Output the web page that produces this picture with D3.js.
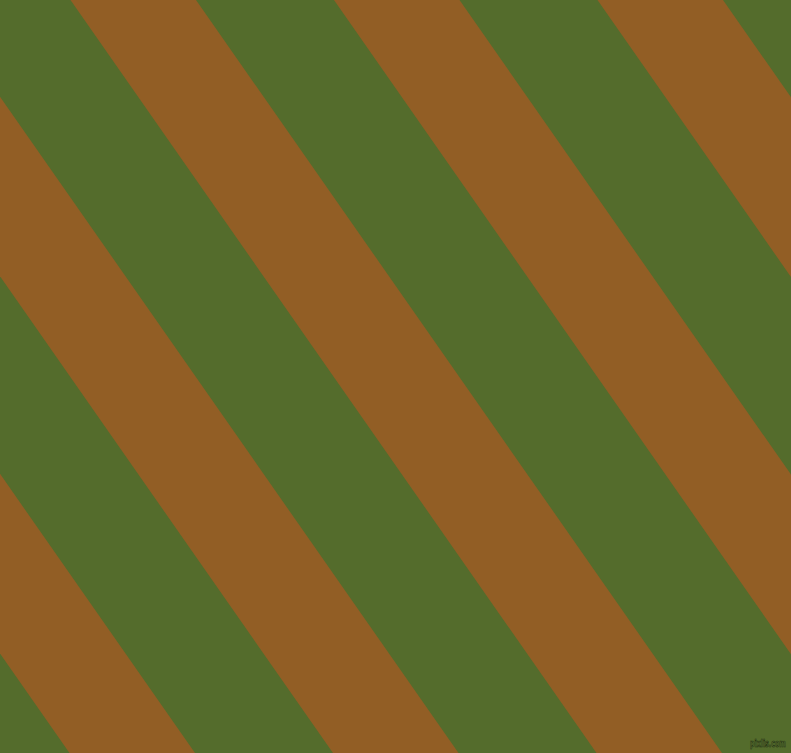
<!DOCTYPE html>
<html>
<head>
<meta charset="utf-8">
<title>Diagonal stripes</title>
<style>
body { margin: 0; background: #546d2c; }
svg { display: block; }
</style>
<script src="https://d3js.org/d3.v7.min.js"></script>
</head>
<body>
<div id="result"></div>
<script>
// stripe bands, counted from the left of the top edge
var stripes = [-2, -1, 0, 1, 2, 3]
var colors = ['#546c2c', '#925e25']   // background, band
var watermark = 'pixlis.com'

var W = 791, H = 753

var svg = d3.select('#result').append('svg').attr('width', W).attr('height', H)

// where each band starts on the top edge (one period = 263.5px)
var x = d3.scaleLinear().domain([0, 1]).range([70.5, 334])
var bandW = 125.5
// horizontal drift of a boundary going down the picture
var drift = d3.scaleLinear().domain([0, H]).range([0, 526])

svg.append('rect').attr('width', W).attr('height', H).attr('fill', colors[0])

svg.selectAll('path.band').data(stripes).enter().append('path')
  .attr('class', 'band')
  .attr('fill', colors[1])
  .attr('d', d => {
    var x0 = x(d), x1 = x(d) + bandW
    var dy = drift(H)
    return `M${x0},0L${x1},0L${x1 + dy},${H}L${x0 + dy},${H}Z`
  })

// small outlined credit in the corner, squeezed to ~36px wide
var wm = svg.append('text').text(watermark)
  .attr('font-family', 'DejaVu Sans, sans-serif')
  .attr('font-weight', 'bold')
  .attr('font-size', 10)
  .attr('fill', '#5b7535')
  .attr('stroke', '#1f2b0f')
  .attr('stroke-width', 0.6)
var sx = 36 / wm.node().getComputedTextLength()
wm.attr('transform', `translate(750,746.5) scale(${sx},1)`)
</script>
</body>
</html>
